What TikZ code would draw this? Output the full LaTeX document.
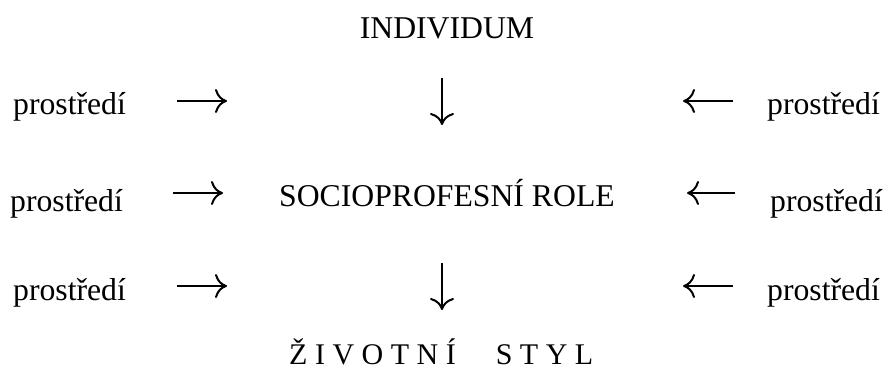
\documentclass[tikz,border=0pt]{standalone}
\usepackage{fontspec}
\setmainfont{Liberation Serif}
\usetikzlibrary{arrows.meta}

\begin{document}
\begin{tikzpicture}[x=1pt,y=-1pt,
  every node/.style={inner sep=0pt,font=\fontsize{31.7}{38}\selectfont},
  env/.style={anchor=base west},
  arr/.style={line width=2pt,-{To[length=12pt,width=24pt]}}]
  \useasboundingbox (0,0) rectangle (885,371);
  % middle column
  \node[anchor=base] (indiv) at (447,39) {INDIVIDUM};
  \node[anchor=base] (role) at (447,207) {SOCIOPROFESNÍ ROLE};
  \node[env,font=\fontsize{30}{36}\selectfont] (styl) at (289,364) {Ž I V O T N Í\hspace{40pt}S T Y L};
  % left and right sides
  \node[env] (envL1) at (13,115) {prostředí};
  \node[env] (envL2) at (10,212) {prostředí};
  \node[env] (envL3) at (13,300) {prostředí};
  \node[env] (envR1) at (767,115) {prostředí};
  \node[env] (envR2) at (770,212) {prostředí};
  \node[env] (envR3) at (767,300) {prostředí};
  % arrow ends
  \coordinate (d1a) at (442,78);  \coordinate (d1b) at (442,125);
  \coordinate (d2a) at (442,263); \coordinate (d2b) at (442,310);
  \coordinate (l1a) at (177,101); \coordinate (l1b) at (227,101);
  \coordinate (l2a) at (173,193); \coordinate (l2b) at (223,193);
  \coordinate (l3a) at (177,286); \coordinate (l3b) at (227,286);
  \coordinate (r1a) at (733,101); \coordinate (r1b) at (683,101);
  \coordinate (r2a) at (735,193); \coordinate (r2b) at (687,193);
  \coordinate (r3a) at (733,286); \coordinate (r3b) at (683,286);
  \draw[arr] (d1a) -- (d1b); \draw[arr] (d2a) -- (d2b);
  \draw[arr] (l1a) -- (l1b); \draw[arr] (l2a) -- (l2b); \draw[arr] (l3a) -- (l3b);
  \draw[arr] (r1a) -- (r1b); \draw[arr] (r2a) -- (r2b); \draw[arr] (r3a) -- (r3b);
\end{tikzpicture}
\end{document}
